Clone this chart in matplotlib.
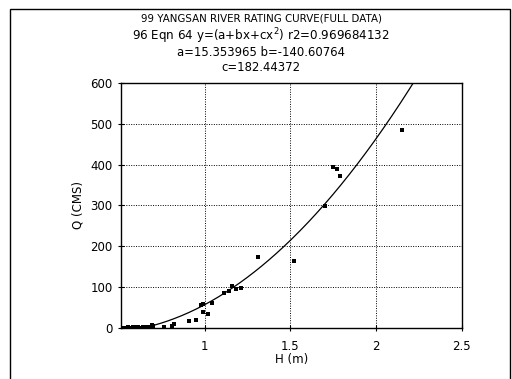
import numpy as np
import matplotlib
matplotlib.use("Agg")
import matplotlib.pyplot as plt
from matplotlib.patches import Rectangle

# Observed stage (H, m) and discharge (Q, CMS)
h_obs = [0.53, 0.55, 0.56, 0.58, 0.59, 0.61, 0.62, 0.64, 0.66, 0.68, 0.69, 0.70,
         0.76, 0.81, 0.82, 0.91, 0.95, 0.98, 0.99, 0.99, 1.02, 1.04,
         1.11, 1.14, 1.16, 1.18, 1.21, 1.31, 1.52, 1.70, 1.75, 1.77, 1.79, 2.15]
q_obs = [1, 2, 1, 2, 3, 2, 1, 2, 2, 3, 8, 5,
         3, 5, 10, 17, 20, 56, 58, 39, 34, 61,
         85, 90, 102, 95, 98, 173, 163, 298, 395, 390, 373, 485]

# Fitted coefficients y = a + b x + c x^2
coef_a = 15.353965
coef_b = -140.60764
coef_c = 182.44372

x_ticks = [1, 1.5, 2, 2.5]
x_tick_labels = ["1", "1.5", "2", "2.5"]
y_ticks = [0, 100, 200, 300, 400, 500, 600]

fig = plt.figure(figsize=(5.12, 3.79), dpi=100)
ax = fig.add_axes([0.236, 0.1346, 0.666, 0.6464])

hc = np.linspace(0.71, 2.3, 300)
qc = coef_a + coef_b * hc + coef_c * hc ** 2
ax.plot(hc, qc, color="black", lw=0.9)
ax.plot(h_obs, q_obs, "s", color="black", markersize=3.2, markeredgewidth=0)

ax.set_xlim(0.51, 2.5)
ax.set_ylim(0, 600)
ax.set_xticks(x_ticks)
ax.set_xticklabels(x_tick_labels)
ax.set_yticks(y_ticks)
ax.grid(True, color="black", linestyle=(0, (1, 1.5)), linewidth=0.7)
ax.tick_params(direction="inout", length=5, labelsize=8.5, colors="black", width=0.8)
ax.tick_params(axis="x", pad=6)
for s in ax.spines.values():
    s.set_linewidth(1.0)
ax.set_xlabel("H (m)", fontsize=8.5, labelpad=0)
ax.set_ylabel("Q (CMS)", fontsize=8.5, labelpad=4)

cx = 0.51
fig.text(cx, 0.952, "99 YANGSAN RIVER RATING CURVE(FULL DATA)", ha="center", va="center", fontsize=7.4)
fig.text(cx, 0.905, "96 Eqn 64 y=(a+bx+cx$^2$) r2=0.969684132", ha="center", va="center", fontsize=8.6)
fig.text(cx, 0.862, "a=15.353965 b=-140.60764", ha="center", va="center", fontsize=8.4)
fig.text(cx, 0.823, "c=182.44372", ha="center", va="center", fontsize=8.4)

fig.patches.append(Rectangle((10 / 512, -0.01), 500 / 512, 1 - 9 / 379 + 0.01,
                             transform=fig.transFigure, fill=False,
                             edgecolor="black", linewidth=1.0))

fig.savefig("out.png", dpi=100)
